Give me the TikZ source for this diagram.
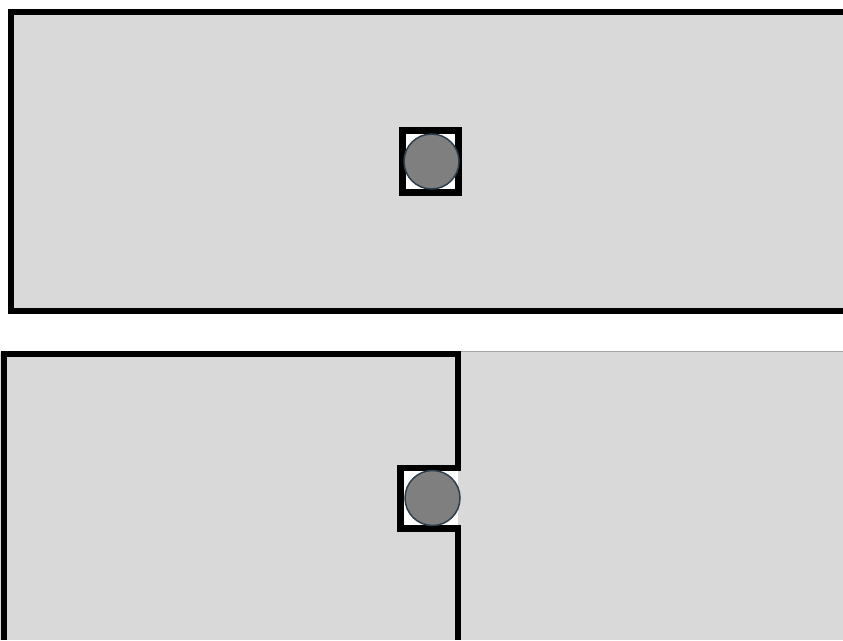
\documentclass[tikz,border=0pt]{standalone}
\usetikzlibrary{calc}
\definecolor{panelgray}{HTML}{D9D9D9}
\definecolor{pingray}{HTML}{7F7F7F}
\definecolor{pinedge}{HTML}{2E3E4C}

\tikzset{
  wall/.style={line width=6.5pt, black},
  pin/.style={fill=pingray, draw=pinedge, line width=1.5pt},
  slot/.style={fill=white, draw=black, line width=6.5pt}
}

\begin{document}
\begin{tikzpicture}[x=1pt,y=-1pt]
\useasboundingbox (0,0) rectangle (843,640);
\def\R{27.5}
% top panel
\coordinate (TA) at (11,12);
\coordinate (TB) at (843,12);
\coordinate (TC) at (843,311);
\coordinate (TD) at (11,311);
\fill[panelgray] (TA) rectangle (TC);
\draw[wall] (TB) -- (TA) -- (TD) -- (TC);
\draw[slot] (402.5,130.5) rectangle (458.5,192.5);
\draw[pin] (431.5,161.5) circle (\R);

% bottom panel
\coordinate (BA) at (4,640);
\coordinate (BB) at (4,354);
\coordinate (BC) at (458,354);
\coordinate (BD) at (458,468);
\coordinate (BE) at (400.5,468);
\coordinate (BF) at (400.5,528.5);
\coordinate (BG) at (458,528.5);
\coordinate (BH) at (458,640);
\fill[panelgray] (0,352) rectangle (843,640);
\draw[gray!70, line width=1pt] (458,351.5) -- (843,351.5);
\fill[white] (BE) rectangle (BG);
\draw[wall] (BA) -- (BB) -- (BC) -- (BD) -- (BE) -- (BF) -- (BG) -- (BH);
\draw[pin] (432.5,498) circle (\R);
\end{tikzpicture}
\end{document}
